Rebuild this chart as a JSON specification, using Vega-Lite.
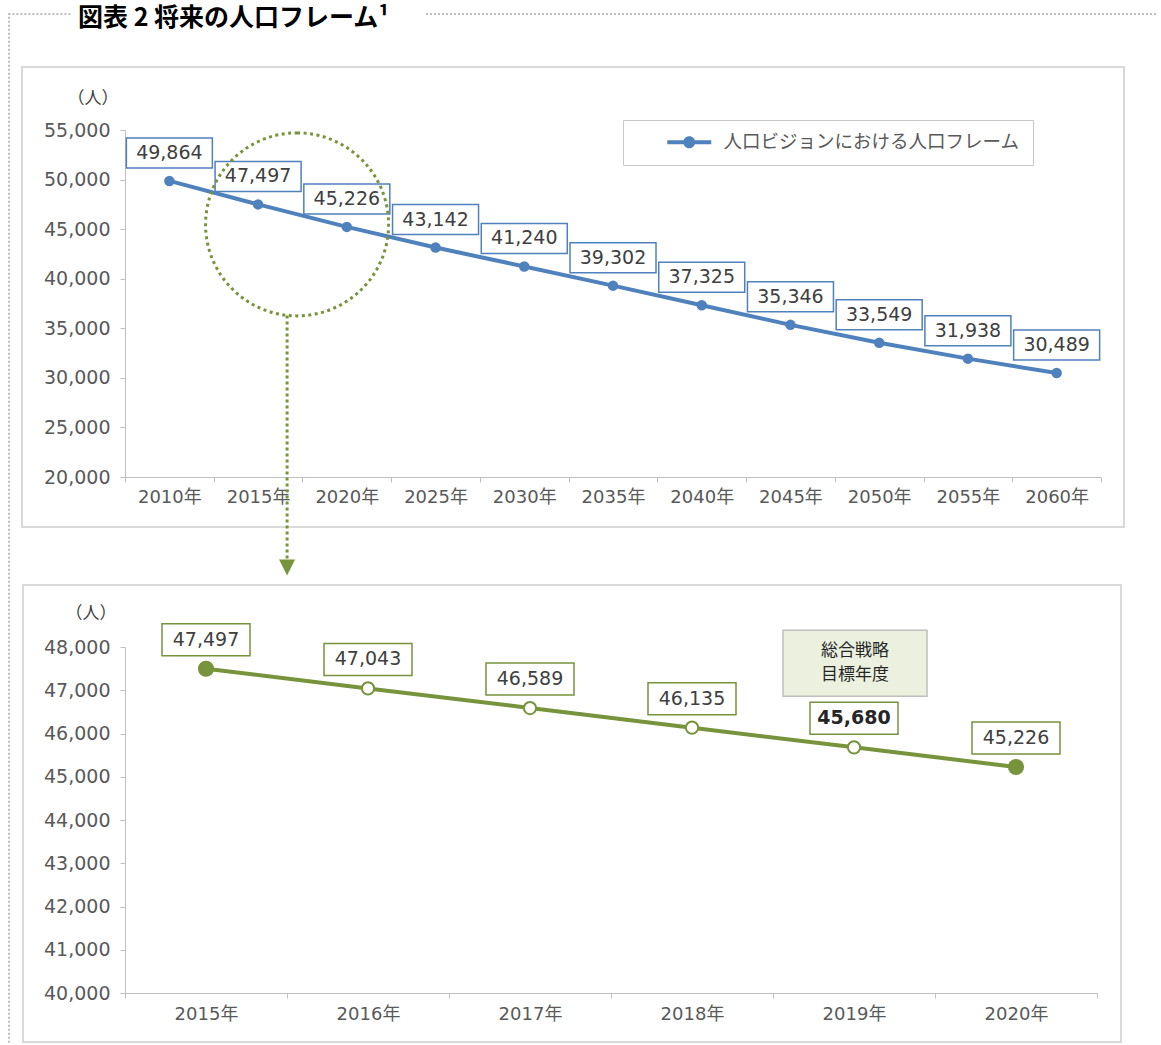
{
  "$schema": "https://vega.github.io/schema/vega-lite/v6.json",
  "padding": {"left": 5, "top": 6, "right": 0, "bottom": 0},
  "background": "white",
  "bounds": "flush",
  "spacing": 170,
  "title": {"text": "図表 2 将来の人口フレーム¹", "anchor": "start", "frame": "group", "dx": -47, "dy": 29, "offset": -12, "baseline": "alphabetic", "fontSize": 25, "fontWeight": "bold", "font": "Noto Sans CJK JP", "color": "#000000"},
  "config": {
    "view": {"stroke": null},
    "axis": {"labelFont": "DejaVu Sans, Noto Sans CJK JP", "titleFont": "Noto Sans CJK JP", "domainColor": "#bfbfbf", "tickColor": "#bfbfbf", "tickSize": 5, "labelColor": "#595959", "grid": false},
    "text": {"font": "DejaVu Sans, Noto Sans CJK JP"}
  },
  "datasets": {
    "vision": [
      {"year": "2010年", "value": 49864, "series": "人口ビジョンにおける人口フレーム"},
      {"year": "2015年", "value": 47497, "series": "人口ビジョンにおける人口フレーム"},
      {"year": "2020年", "value": 45226, "series": "人口ビジョンにおける人口フレーム"},
      {"year": "2025年", "value": 43142, "series": "人口ビジョンにおける人口フレーム"},
      {"year": "2030年", "value": 41240, "series": "人口ビジョンにおける人口フレーム"},
      {"year": "2035年", "value": 39302, "series": "人口ビジョンにおける人口フレーム"},
      {"year": "2040年", "value": 37325, "series": "人口ビジョンにおける人口フレーム"},
      {"year": "2045年", "value": 35346, "series": "人口ビジョンにおける人口フレーム"},
      {"year": "2050年", "value": 33549, "series": "人口ビジョンにおける人口フレーム"},
      {"year": "2055年", "value": 31938, "series": "人口ビジョンにおける人口フレーム"},
      {"year": "2060年", "value": 30489, "series": "人口ビジョンにおける人口フレーム"}
    ],
    "detail": [
      {"year": "2015年", "value": 47497},
      {"year": "2016年", "value": 47043},
      {"year": "2017年", "value": 46589},
      {"year": "2018年", "value": 46135},
      {"year": "2019年", "value": 45680},
      {"year": "2020年", "value": 45226}
    ]
  },
  "vconcat": [
    {
      "width": 976,
      "height": 347,
      "data": {"name": "vision"},
      "encoding": {
        "x": {"field": "year", "type": "ordinal", "bandPosition": 0.5,
          "scale": {"type": "band", "paddingInner": 0, "paddingOuter": 0, "domain": ["2010年","2015年","2020年","2025年","2030年","2035年","2040年","2045年","2050年","2055年","2060年"]},
          "axis": {"title": null, "tickBand": "extent", "labelAngle": 0, "labelFontSize": 18, "labelPadding": 6}},
        "y": {"field": "value", "type": "quantitative",
          "scale": {"domain": [20000, 55000], "nice": false, "zero": false},
          "axis": {"values": [20000,25000,30000,35000,40000,45000,50000,55000], "labelExpr": "format(datum.value, ',')", "labelFontSize": 19, "labelPadding": 10,
            "title": "（人）", "titleAngle": 0, "titleAlign": "right", "titleBaseline": "middle", "titleX": -7, "titleY": -32, "titleFontSize": 17, "titleFontWeight": "normal", "titleColor": "#404040"}}
      },
      "layer": [
        {
          "transform": [{"filter": "datum.year === '2035年'"}],
          "mark": {"type": "point", "shape": "M-591,-218.6H511V241.4H-591Z", "size": 4, "filled": false, "fill": "transparent", "stroke": "#d9d9d9", "strokeWidth": 2, "opacity": 1}
        },
        {
          "transform": [{"filter": "datum.year === '2035年'"}],
          "mark": {"type": "point", "shape": "M-604,757V-271.6H-541M-187,-271.6H544", "size": 4, "filled": false, "fill": "transparent", "stroke": "#bdbdbd", "strokeWidth": 2, "strokeDash": [2, 2], "opacity": 1}
        },
        {
          "mark": {"type": "line", "strokeWidth": 4},
          "encoding": {
            "color": {"field": "series", "type": "nominal", "scale": {"range": ["#4f81bd"]},
              "legend": {"orient": "none", "legendX": 498, "legendY": -10, "title": null, "padding": 13, "strokeColor": "#c8c8c8", "fillColor": "white",
                "symbolType": "M-22,-2H22V2H-22ZM-6,0A6,6 0 1,1 6,0A6,6 0 1,1 -6,0Z", "symbolSize": 4, "symbolOffset": 44, "labelOffset": 25,
                "labelFontSize": 18.5, "labelColor": "#595959", "labelFont": "Noto Sans CJK JP", "labelLimit": 0, "labelExpr": "datum.label + '　'",
                "symbolStrokeWidth": 0, "symbolFillColor": "#4f81bd",
                "encode": {"symbols": {"update": {"fill": {"value": "#4f81bd"}, "stroke": {"value": "transparent"}, "opacity": {"value": 1}}}}}}
          }
        },
        {
          "mark": {"type": "point", "filled": true, "size": 110, "color": "#4f81bd", "opacity": 1}
        },
        {
          "mark": {"type": "point", "shape": "M-43,-43H43V-13H-43Z", "size": 4, "filled": false, "fill": "white", "stroke": "#4f81bd", "strokeWidth": 1.5, "opacity": 1}
        },
        {
          "mark": {"type": "text", "dy": -28, "fontSize": 19, "color": "#404040", "baseline": "middle"},
          "encoding": {"text": {"field": "value", "type": "quantitative", "format": ","}}
        },
        {
          "transform": [{"filter": "datum.year === '2015年'"}],
          "mark": {"type": "point", "shape": "M39,-71.5A91.5,91.5 0 1,1 39,111.5A91.5,91.5 0 1,1 39,-71.5Z", "size": 4, "filled": false, "fill": "transparent", "stroke": "#77933c", "strokeWidth": 3, "strokeDash": [3, 3.5], "opacity": 1}
        },
        {
          "transform": [{"filter": "datum.year === '2015年'"}],
          "mark": {"type": "point", "shape": "M29,111V355", "size": 4, "filled": false, "fill": "transparent", "stroke": "#77933c", "strokeWidth": 3, "strokeDash": [3, 3], "opacity": 1}
        },
        {
          "transform": [{"filter": "datum.year === '2015年'"}],
          "mark": {"type": "point", "shape": "M21,355H37L29,371Z", "size": 4, "filled": true, "color": "#77933c", "opacity": 1}
        }
      ]
    },
    {
      "width": 972,
      "height": 346,
      "data": {"name": "detail"},
      "encoding": {
        "x": {"field": "year", "type": "ordinal", "bandPosition": 0.5,
          "scale": {"type": "band", "paddingInner": 0, "paddingOuter": 0, "domain": ["2015年","2016年","2017年","2018年","2019年","2020年"]},
          "axis": {"title": null, "tickBand": "extent", "labelAngle": 0, "labelFontSize": 18, "labelPadding": 7}},
        "y": {"field": "value", "type": "quantitative",
          "scale": {"domain": [40000, 48000], "nice": false, "zero": false},
          "axis": {"values": [40000,41000,42000,43000,44000,45000,46000,47000,48000], "labelExpr": "format(datum.value, ',')", "labelFontSize": 19, "labelPadding": 10,
            "title": "（人）", "titleAngle": 0, "titleAlign": "right", "titleBaseline": "middle", "titleX": -9, "titleY": -34, "titleFontSize": 17, "titleFontWeight": "normal", "titleColor": "#404040"}}
      },
      "layer": [
        {
          "transform": [{"filter": "datum.year === '2017年'"}],
          "mark": {"type": "point", "shape": "M-507,-123H591V334H-507Z", "size": 4, "filled": false, "fill": "transparent", "stroke": "#d9d9d9", "strokeWidth": 2, "opacity": 1}
        },
        {
          "mark": {"type": "line", "strokeWidth": 4, "color": "#77933c"}
        },
        {
          "mark": {"type": "point", "stroke": "#77933c", "strokeWidth": 2, "opacity": 1},
          "encoding": {
            "fill": {"condition": {"test": "datum.year === '2015年' || datum.year === '2020年'", "value": "#77933c"}, "value": "white"},
            "size": {"condition": {"test": "datum.year === '2015年' || datum.year === '2020年'", "value": 200}, "value": 150}
          }
        },
        {
          "mark": {"type": "point", "shape": "M-44,-45H44V-13H-44Z", "size": 4, "filled": false, "fill": "white", "stroke": "#77933c", "strokeWidth": 1.5, "opacity": 1}
        },
        {
          "transform": [{"filter": "datum.year !== '2019年'"}],
          "mark": {"type": "text", "dy": -29, "fontSize": 19, "color": "#404040", "baseline": "middle"},
          "encoding": {"text": {"field": "value", "type": "quantitative", "format": ","}}
        },
        {
          "transform": [{"filter": "datum.year === '2019年'"}],
          "mark": {"type": "text", "dy": -29, "fontSize": 19, "fontWeight": "bold", "color": "#262626", "baseline": "middle"},
          "encoding": {"text": {"field": "value", "type": "quantitative", "format": ","}}
        },
        {
          "transform": [{"filter": "datum.year === '2019年'"}],
          "mark": {"type": "point", "shape": "M-71,-117H73V-51H-71Z", "size": 4, "filled": true, "fill": "#ebf1de", "stroke": "#bfbfbf", "strokeWidth": 1.5, "opacity": 1}
        },
        {
          "transform": [{"filter": "datum.year === '2019年'"}],
          "mark": {"type": "text", "text": ["総合戦略", "目標年度"], "lineHeight": 24, "dy": -96, "dx": 1, "fontSize": 17, "font": "Noto Sans CJK JP", "color": "#262626", "baseline": "middle"}
        }
      ]
    }
  ]
}
